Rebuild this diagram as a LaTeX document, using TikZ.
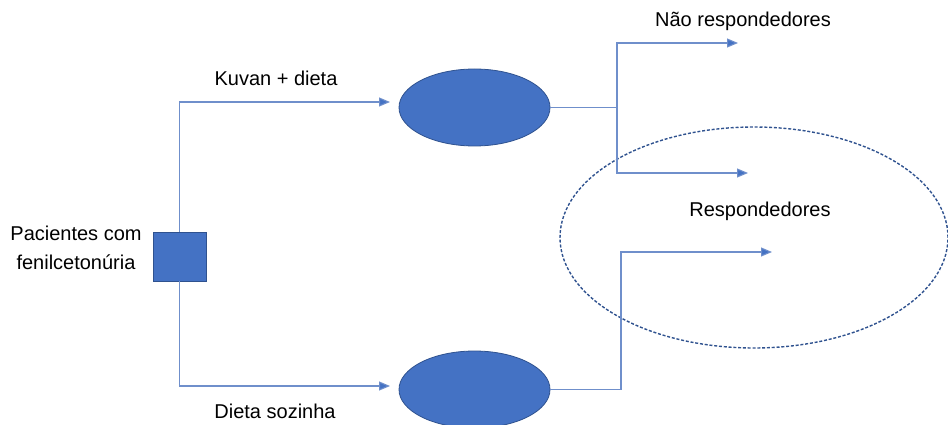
\documentclass[tikz,border=0pt]{standalone}
\usepackage{fontspec}
\setmainfont{Liberation Sans}
\usetikzlibrary{arrows.meta,shapes.geometric}
\definecolor{fillblue}{HTML}{4472C4}
\definecolor{edgeblue}{HTML}{2F528F}
\definecolor{lineblue}{HTML}{6F8FCB}
\begin{document}
\begin{tikzpicture}[x=1pt,y=-1pt,
  lbl/.style={font=\fontsize{20}{29}\selectfont, inner sep=0pt, text=black},
  blob/.style={ellipse, draw=edgeblue, fill=fillblue, line width=0.8pt, minimum width=151pt, minimum height=77pt, inner sep=0pt},
  conn/.style={draw=lineblue, line width=1.1pt},
  arr/.style={conn, -{Triangle[length=11pt,width=9pt,fill=fillblue]}}
]
\useasboundingbox (0,0) rectangle (948,425);
\node[draw=edgeblue, fill=fillblue, line width=0.8pt, minimum width=53pt, minimum height=49pt, inner sep=0pt] (sq) at (179.5,256.5) {};
\node[blob] (e1) at (474.5,107.5) {};
\node[blob] (e2) at (474.5,389.5) {};
\node[ellipse, draw=edgeblue, dash pattern=on 3pt off 1.8pt, line width=1.4pt, minimum width=388pt, minimum height=221pt, inner sep=0pt] (resp) at (754,237.5) {};
\coordinate (k1) at (390,102);
\coordinate (d1) at (390,386);
\coordinate (j1) at (617,107.5);
\coordinate (nr) at (738,43);
\coordinate (r1) at (748,173);
\coordinate (j2) at (621,389.5);
\coordinate (r2) at (772,252);
\draw[arr] (sq.north) |- (k1);
\draw[arr] (sq.south) |- (d1);
\draw[conn] (e1.east) -- (j1);
\draw[arr] (j1) |- (nr);
\draw[arr] (j1) |- (r1);
\draw[arr] (e2.east) -| (j2) |- (r2);
\node[lbl] (tnr) at (743,21) {Não respondedores};
\node[lbl] (tk) at (276,78) {Kuvan + dieta};
\node[lbl] (tr) at (760,211) {Respondedores};
\node[lbl] (td) at (275,411) {Dieta sozinha};
\node[lbl, align=center] (tp) at (76,247.5) {Pacientes com\\fenilcetonúria};
\end{tikzpicture}
\end{document}
